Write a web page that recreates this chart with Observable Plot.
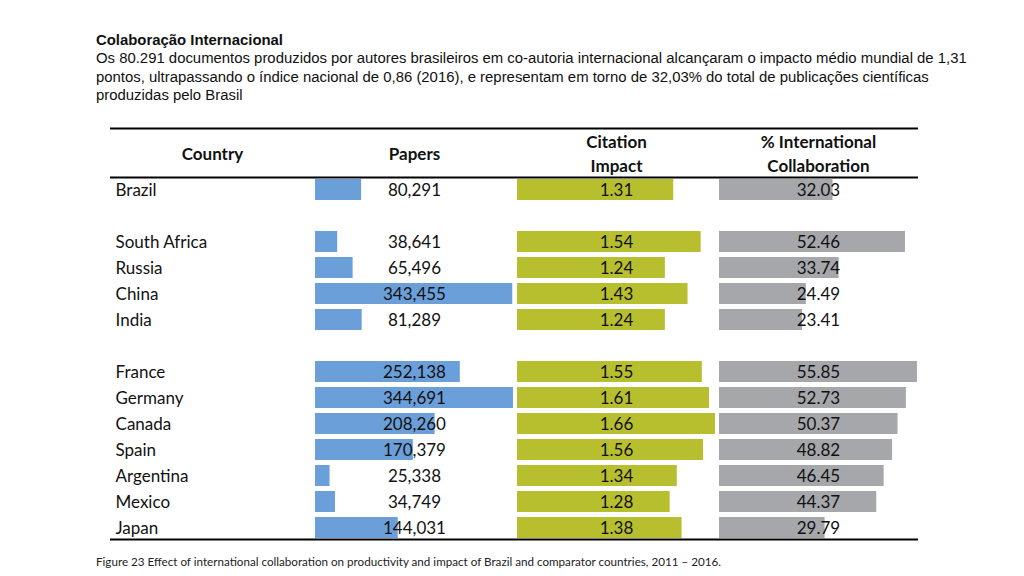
<!DOCTYPE html>
<html><head><meta charset="utf-8">
<script src="https://cdn.jsdelivr.net/npm/d3@7"></script>
<script src="https://cdn.jsdelivr.net/npm/@observablehq/plot@0.6"></script>
<style>
body{margin:0;background:#fff;width:1024px;height:576px;overflow:hidden;position:relative;}
#intro{position:absolute;left:96px;top:31px;width:920px;font-family:"Liberation Sans",Arial,sans-serif;font-size:14.9px;line-height:18.3px;color:#111;white-space:nowrap;}
#intro .t{font-weight:bold;font-size:14.9px;}
#chart{position:absolute;left:0;top:104px;}
#caption{position:absolute;left:96px;top:555px;font-family:Lato,"Open Sans",sans-serif;font-size:11.65px;color:#222;white-space:nowrap;}
</style>
</head><body>
<div id="intro"><div class="t">Colaboração Internacional</div>
<div>Os 80.291 documentos produzidos por autores brasileiros em co-autoria internacional alcançaram o impacto médio mundial de 1,31<br>pontos, ultrapassando o índice nacional de 0,86 (2016), e representam em torno de 32,03% do total de publicações científicas<br>produzidas pelo Brasil</div></div>
<div id="chart"></div>
<div id="caption">Figure 23 Effect of international collaboration on productivity and impact of Brazil and comparator countries, 2011 – 2016.</div>
<script>
const countries = ["Brazil","South Africa","Russia","China","India","France","Germany","Canada","Spain","Argentina","Mexico","Japan"];
const papers = [80291,38641,65496,343455,81289,252138,344691,208260,170379,25338,34749,144031];
const impact = [1.31,1.54,1.24,1.43,1.24,1.55,1.61,1.66,1.56,1.34,1.28,1.38];
const intl = [32.03,52.46,33.74,24.49,23.41,55.85,52.73,50.37,48.82,46.45,44.37,29.79];
const headers = ["Country","Papers","Citation\nImpact","% International\nCollaboration"];
const rowOrder = ["h1","h2","Brazil"," ","South Africa","Russia","China","India","  ","France","Germany","Canada","Spain","Argentina","Mexico","Japan"];

const metrics = [
  {col: 1, values: papers, fmt: d3.format(","), color: "#6a9fd9"},
  {col: 2, values: impact, fmt: d3.format(".2f"), color: "#b8bf2e"},
  {col: 3, values: intl, fmt: d3.format(".2f"), color: "#a6a7ab"}
];
const cells = metrics.flatMap(m => {
  const max = d3.max(m.values);
  return countries.map((c, i) => ({country: c, col: m.col, value: m.values[i], frac: m.values[i] / max, label: m.fmt(m.values[i]), color: m.color}));
});
const W = 0.98;
const font = "Lato, 'Open Sans', sans-serif";

const chart = Plot.plot({
  width: 1024,
  height: 450,
  marginLeft: 113,
  marginRight: 103,
  marginTop: 20,
  marginBottom: 14,
  x: {domain: [0, 4], axis: null},
  y: {domain: rowOrder, axis: null, padding: 0},
  style: {fontFamily: font, background: "transparent"},
  marks: [
    Plot.barX(cells, {y: "country", x1: d => d.col, x2: d => d.col + d.frac * W, fill: "color", insetTop: 3, insetBottom: 2}),
    Plot.text(cells, {y: "country", x: d => d.col + 0.49, text: "label", fontSize: 17, fill: "#111", dy: 1.5}),
    Plot.text(countries, {y: d => d, x: 0.01, text: d => d, textAnchor: "start", fontSize: 17, fill: "#111", dy: 1.5}),
    Plot.text(headers, {x: (d, i) => i + 0.49, y: () => "h2", text: d => d, fontSize: 17, fontWeight: "bold", fill: "#111", lineAnchor: "middle", lineHeight: 1.42, dy: -11.5}),
    Plot.ruleY(["h1"], {x1: -0.015, x2: 3.985, stroke: "#000", strokeWidth: 2, dy: -9}),
    Plot.ruleY(["Brazil"], {x1: -0.015, x2: 3.985, stroke: "#000", strokeWidth: 2, dy: -12}),
    Plot.ruleY(["Japan"], {x1: -0.015, x2: 3.985, stroke: "#000", strokeWidth: 2, dy: 12})
  ]
});
document.getElementById("chart").appendChild(chart);
</script>
</body></html>
